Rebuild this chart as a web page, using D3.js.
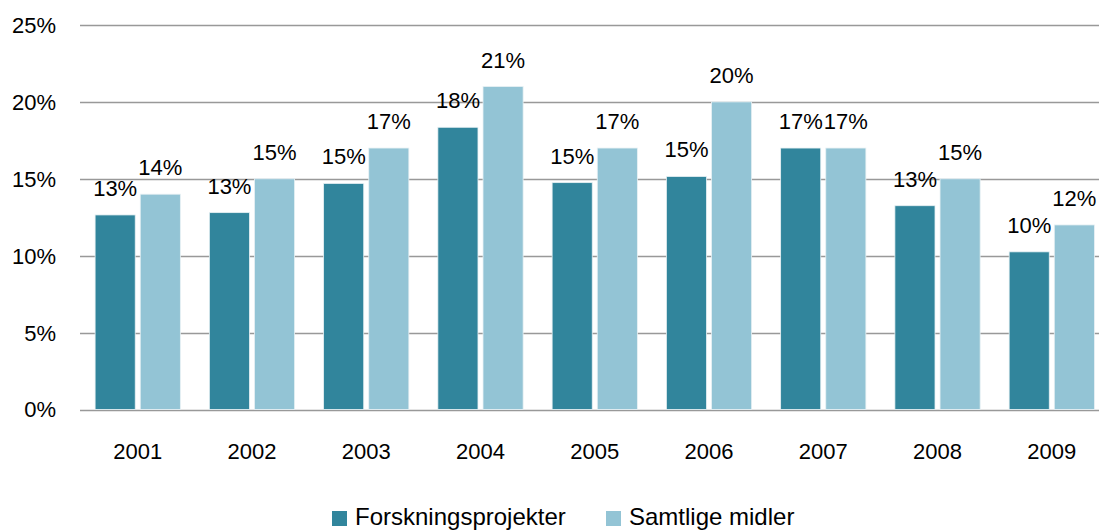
<!DOCTYPE html>
<html>
<head>
<meta charset="utf-8">
<script src="https://cdn.jsdelivr.net/npm/d3@7"></script>
<style>
  body { margin: 0; background: #fff; }
  text { font-family: "Liberation Sans", Arial, sans-serif; fill: #000; }
</style>
</head>
<body>
<svg id="chart" width="1099" height="531"></svg>
<script>
var years = ["2001", "2002", "2003", "2004", "2005", "2006", "2007", "2008", "2009"];
var seriesNames = ["Forskningsprojekter", "Samtlige midler"];
var forskning = [12.65, 12.8, 14.7, 18.35, 14.75, 15.15, 17.0, 13.25, 10.25];
var samtlige = [14.0, 15.0, 17.0, 21.0, 17.0, 20.0, 17.0, 15.0, 12.0];
var labelsForskning = ["13%", "13%", "15%", "18%", "15%", "15%", "17%", "13%", "10%"];
var labelsSamtlige = ["14%", "15%", "17%", "21%", "17%", "20%", "17%", "15%", "12%"];
var yTicks = [0, 5, 10, 15, 20, 25];

var svg = d3.select("#chart"),
    width = +svg.attr("width"),
    height = +svg.attr("height");

var color = d3.scaleOrdinal(seriesNames, ["#31859c", "#93c4d5"]);

var x = d3.scaleBand()
    .domain(years)
    .range([80.6, 1108.9])
    .paddingInner(29 / 114.25)
    .paddingOuter(29 / 114.25 / 2);

var xInner = d3.scaleBand()
    .domain(seriesNames)
    .range([0, x.bandwidth()])
    .paddingInner(9.5 / 85.3);

var y = d3.scaleLinear()
    .domain([0, 25])
    .range([409.5, 25]);

// gridlines
svg.append("g")
    .attr("class", "grid")
  .selectAll("line")
  .data(yTicks)
  .enter().append("line")
    .attr("x1", 80)
    .attr("x2", width)
    .attr("y1", function(d) { return Math.round(y(d)) + 0.5; })
    .attr("y2", function(d) { return Math.round(y(d)) + 0.5; })
    .attr("stroke", "#999")
    .attr("stroke-width", 1.3);

// y axis labels
svg.append("g")
  .selectAll("text")
  .data(yTicks)
  .enter().append("text")
    .attr("x", 56)
    .attr("y", function(d) { return y(d); })
    .attr("dy", "0.36em")
    .attr("text-anchor", "end")
    .style("font-size", "22px")
    .text(function(d) { return d + "%"; });

var rows = years.map(function(yr, i) {
  return {
    year: yr,
    vals: [
      { key: seriesNames[0], value: forskning[i], label: labelsForskning[i] },
      { key: seriesNames[1], value: samtlige[i], label: labelsSamtlige[i] }
    ]
  };
});

var group = svg.append("g")
  .selectAll("g")
  .data(rows)
  .enter().append("g")
    .attr("transform", function(d) { return "translate(" + x(d.year) + ",0)"; });

group.selectAll("rect")
  .data(function(d) { return d.vals; })
  .enter().append("rect")
    .attr("x", function(d) { return xInner(d.key); })
    .attr("width", xInner.bandwidth())
    .attr("y", function(d) { return y(d.value); })
    .attr("height", function(d) { return y(0) - y(d.value); })
    .attr("fill", function(d) { return color(d.key); })
    .attr("stroke", "#e8f1f4")
    .attr("stroke-width", 0.8);

group.selectAll("text")
  .data(function(d) { return d.vals; })
  .enter().append("text")
    .attr("x", function(d) { return xInner(d.key) + xInner.bandwidth() / 2; })
    .attr("y", function(d) { return y(d.value) - 19; })
    .attr("text-anchor", "middle")
    .style("font-size", "22px")
    .text(function(d) { return d.label; });

// x axis labels
svg.append("g")
  .selectAll("text")
  .data(years)
  .enter().append("text")
    .attr("x", function(d) { return x(d) + x.bandwidth() / 2; })
    .attr("y", 459)
    .attr("text-anchor", "middle")
    .style("font-size", "22px")
    .text(function(d) { return d; });

// legend
var legendX = [332, 606];
var legend = svg.append("g")
  .selectAll("g")
  .data(seriesNames)
  .enter().append("g")
    .attr("transform", function(d, i) { return "translate(" + legendX[i] + ",511)"; });

legend.append("rect")
    .attr("width", 15)
    .attr("height", 15)
    .attr("fill", function(d) { return color(d); });

legend.append("text")
    .attr("x", 23)
    .attr("y", 14)
    .style("font-size", "24px")
    .text(function(d) { return d; });
</script>
</body>
</html>
